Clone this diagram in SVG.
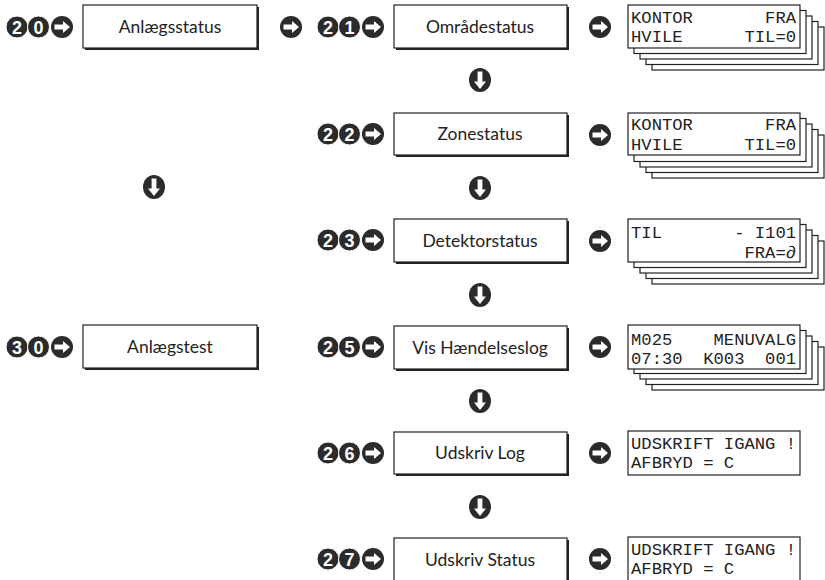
<svg xmlns="http://www.w3.org/2000/svg" xmlns:xlink="http://www.w3.org/1999/xlink" width="825" height="580" viewBox="0 0 825 580">
<style>
.bx{fill:#fff;stroke:#222;stroke-width:1.2}
.sh{stroke:#222;stroke-width:2;fill:none}
.lbl{font-family:Lato,"Open Sans","Liberation Sans",sans-serif;font-size:17.5px;fill:#222;text-anchor:middle}
.lcd{fill:#fff;stroke:#222;stroke-width:1.2}
.lt{font-family:"Liberation Mono","DejaVu Sans Mono",monospace;font-size:17.2px;fill:#222}
.num{fill:#2b2b2b;stroke:#fff;stroke-width:1}
.nt{font-family:"Liberation Sans","DejaVu Sans",sans-serif;font-weight:bold;font-size:18px;fill:#fff;text-anchor:middle}
</style>
<defs>
<g id="ra"><circle r="11" fill="#2b2b2b"/><path d="M-7.5,-2.4H1V-6L8,0L1,6V2.4H-7.5Z" fill="#fff"/></g>
<g id="da"><ellipse rx="11" ry="12" fill="#2b2b2b"/><path d="M-2.4,-8.5V1.5H-6L0,9L6,1.5H2.4V-8.5Z" fill="#fff"/></g>
<g id="stk">
<rect class="lcd" x="24" y="22" width="172" height="43"/>
<rect class="lcd" x="18" y="16.5" width="172" height="43"/>
<rect class="lcd" x="12" y="11" width="172" height="43"/>
<rect class="lcd" x="6" y="5.5" width="172" height="43"/>
</g>
</defs>

<g id="connectors">
<use href="#ra" x="291" y="27"/>
<use href="#ra" x="600" y="27"/>
<use href="#ra" x="600" y="135"/>
<use href="#ra" x="600" y="241"/>
<use href="#ra" x="600" y="347"/>
<use href="#ra" x="600" y="453"/>
<use href="#ra" x="600" y="559"/>
<use href="#da" x="480" y="80"/>
<use href="#da" x="480" y="188"/>
<use href="#da" x="480" y="295"/>
<use href="#da" x="480" y="401"/>
<use href="#da" x="480" y="507"/>
<use href="#da" x="154" y="187"/>
</g>

<g id="n20">
<circle class="num" cx="17" cy="27" r="11"/><text class="nt" x="17" y="33.5">2</text>
<circle class="num" cx="38.5" cy="27" r="11"/><text class="nt" x="38.5" y="33.5">0</text>
<use href="#ra" x="62" y="27"/>
<rect class="bx" x="83" y="5" width="174" height="43"/>
<path class="sh" d="M258,7V49H85"/>
<text class="lbl" x="170" y="33">Anlægsstatus</text>
</g>

<g id="n30">
<circle class="num" cx="17" cy="347" r="11"/><text class="nt" x="17" y="353.5">3</text>
<circle class="num" cx="38.5" cy="347" r="11"/><text class="nt" x="38.5" y="353.5">0</text>
<use href="#ra" x="62" y="347"/>
<rect class="bx" x="83" y="325" width="174" height="43"/>
<path class="sh" d="M258,327V369H85"/>
<text class="lbl" x="170" y="353">Anlægstest</text>
</g>

<g id="n21">
<circle class="num" cx="328" cy="27" r="11"/><text class="nt" x="328" y="33.5">2</text>
<circle class="num" cx="349.5" cy="27" r="11"/><text class="nt" x="349.5" y="33.5">1</text>
<use href="#ra" x="373" y="27"/>
<rect class="bx" x="394" y="5" width="173" height="43"/>
<path class="sh" d="M568,7V49H396"/>
<text class="lbl" x="480" y="33">Områdestatus</text>
</g>

<g id="n22">
<circle class="num" cx="328" cy="134" r="11"/><text class="nt" x="328" y="140.5">2</text>
<circle class="num" cx="349.5" cy="134" r="11"/><text class="nt" x="349.5" y="140.5">2</text>
<use href="#ra" x="373" y="134"/>
<rect class="bx" x="394" y="113" width="173" height="42"/>
<path class="sh" d="M568,115V156H396"/>
<text class="lbl" x="480" y="140">Zonestatus</text>
</g>

<g id="n23">
<circle class="num" cx="328" cy="240" r="11"/><text class="nt" x="328" y="246.5">2</text>
<circle class="num" cx="349.5" cy="240" r="11"/><text class="nt" x="349.5" y="246.5">3</text>
<use href="#ra" x="373" y="240"/>
<rect class="bx" x="394" y="219" width="173" height="43"/>
<path class="sh" d="M568,221V263H396"/>
<text class="lbl" x="480" y="247">Detektorstatus</text>
</g>

<g id="n25">
<circle class="num" cx="328" cy="347" r="11"/><text class="nt" x="328" y="353.5">2</text>
<circle class="num" cx="349.5" cy="347" r="11"/><text class="nt" x="349.5" y="353.5">5</text>
<use href="#ra" x="373" y="347"/>
<rect class="bx" x="394" y="326" width="173" height="43"/>
<path class="sh" d="M568,328V370H396"/>
<text class="lbl" x="480" y="354">Vis Hændelseslog</text>
</g>

<g id="n26">
<circle class="num" cx="328" cy="453" r="11"/><text class="nt" x="328" y="459.5">2</text>
<circle class="num" cx="349.5" cy="453" r="11"/><text class="nt" x="349.5" y="459.5">6</text>
<use href="#ra" x="373" y="453"/>
<rect class="bx" x="394" y="432" width="173" height="42"/>
<path class="sh" d="M568,434V475H396"/>
<text class="lbl" x="480" y="459">Udskriv Log</text>
</g>

<g id="n27">
<circle class="num" cx="328" cy="559" r="11"/><text class="nt" x="328" y="565.5">2</text>
<circle class="num" cx="349.5" cy="559" r="11"/><text class="nt" x="349.5" y="565.5">7</text>
<use href="#ra" x="373" y="559"/>
<rect class="bx" x="394" y="538" width="173" height="43"/>
<path class="sh" d="M568,540V582H396"/>
<text class="lbl" x="480" y="566">Udskriv Status</text>
</g>

<g id="d21">
<use href="#stk" x="628" y="5"/>
<rect class="lcd" x="628" y="5" width="172" height="43"/>
<text class="lt" x="631" y="23" xml:space="preserve">KONTOR       FRA</text>
<text class="lt" x="631" y="42" xml:space="preserve">HVILE      TIL=0</text>
</g>

<g id="d22">
<use href="#stk" x="628" y="113"/>
<rect class="lcd" x="628" y="113" width="172" height="42"/>
<text class="lt" x="631" y="130" xml:space="preserve">KONTOR       FRA</text>
<text class="lt" x="631" y="150" xml:space="preserve">HVILE      TIL=0</text>
</g>

<g id="d23">
<use href="#stk" x="628" y="219"/>
<rect class="lcd" x="628" y="219" width="172" height="43"/>
<text class="lt" x="631" y="238" xml:space="preserve">TIL       - I101</text>
<text class="lt" x="631" y="258" xml:space="preserve">           FRA=∂</text>
</g>

<g id="d25">
<use href="#stk" x="628" y="325"/>
<rect class="lcd" x="628" y="325" width="172" height="44"/>
<text class="lt" x="631" y="345" xml:space="preserve">M025    MENUVALG</text>
<text class="lt" x="631" y="364" xml:space="preserve">07:30  K003  001</text>
</g>

<g id="d26">
<rect class="lcd" x="628" y="431" width="172" height="44"/>
<text class="lt" x="631" y="449" xml:space="preserve">UDSKRIFT IGANG !</text>
<text class="lt" x="631" y="468" xml:space="preserve">AFBRYD = C</text>
</g>

<g id="d27">
<rect class="lcd" x="628" y="537" width="172" height="44"/>
<text class="lt" x="631" y="555" xml:space="preserve">UDSKRIFT IGANG !</text>
<text class="lt" x="631" y="574" xml:space="preserve">AFBRYD = C</text>
</g>
</svg>
